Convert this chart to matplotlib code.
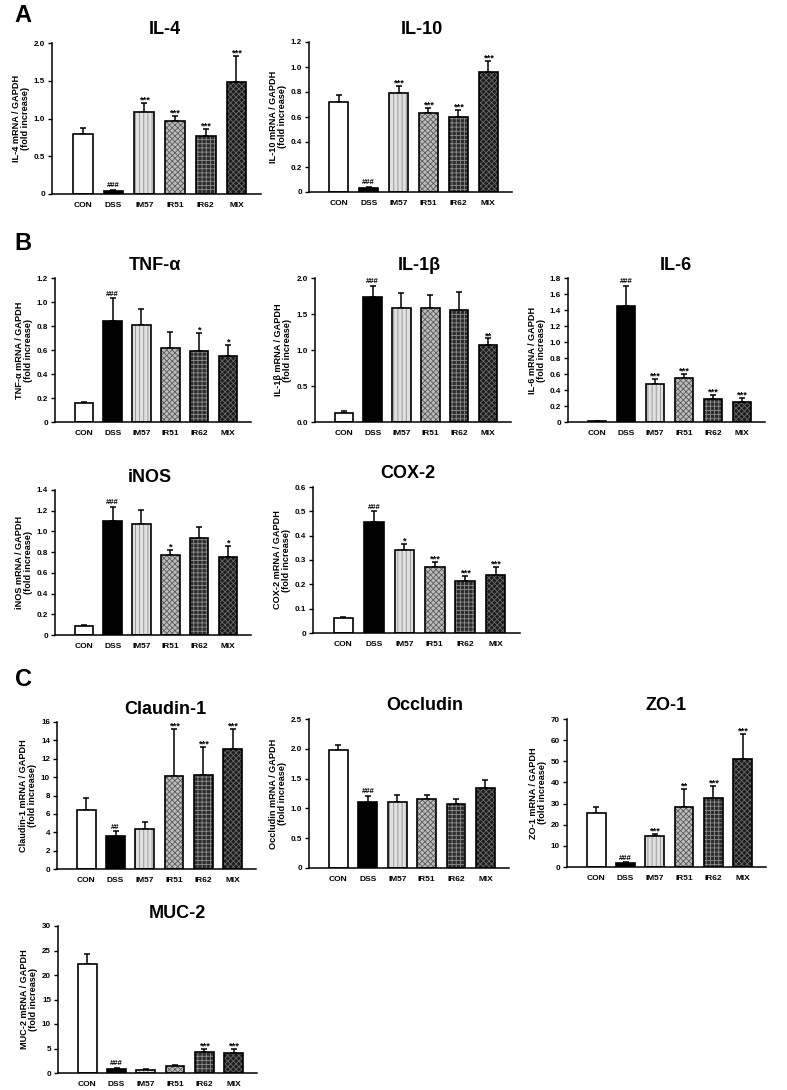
import numpy as np
import matplotlib.pyplot as plt

plt.rcParams['font.family'] = ['Liberation Sans', 'DejaVu Sans']
plt.rcParams['font.weight'] = 'bold'
plt.rcParams['hatch.linewidth'] = 0.6

# groups
groups = ['CON', 'DSS', 'IM57', 'IR51', 'IR62', 'MIX']

# panel A
il4_mean = [0.79, 0.04, 1.08, 0.97, 0.77, 1.49]
il4_err = [0.09, 0.01, 0.12, 0.06, 0.09, 0.34]
il4_marks = ['', '###', '***', '***', '***', '***']
il4_ticks = [0, 0.5, 1.0, 1.5, 2.0]
il4_ticklabels = ['0', '0.5', '1.0', '1.5', '2.0']

il10_mean = [0.72, 0.03, 0.79, 0.63, 0.60, 0.96]
il10_err = [0.06, 0.01, 0.06, 0.04, 0.06, 0.09]
il10_marks = ['', '###', '***', '***', '***', '***']
il10_ticks = [0, 0.2, 0.4, 0.6, 0.8, 1.0, 1.2]
il10_ticklabels = ['0', '0.2', '0.4', '0.6', '0.8', '1.0', '1.2']

# panel B
tnf_mean = [0.155, 0.84, 0.81, 0.62, 0.59, 0.55]
tnf_err = [0.01, 0.19, 0.13, 0.13, 0.15, 0.09]
tnf_marks = ['', '###', '', '', '*', '*']
tnf_ticks = [0, 0.2, 0.4, 0.6, 0.8, 1.0, 1.2]
tnf_ticklabels = ['0', '0.2', '0.4', '0.6', '0.8', '1.0', '1.2']

il1b_mean = [0.13, 1.73, 1.58, 1.59, 1.55, 1.07]
il1b_err = [0.02, 0.16, 0.21, 0.17, 0.25, 0.09]
il1b_marks = ['', '###', '', '', '', '**']
il1b_ticks = [0, 0.5, 1.0, 1.5, 2.0]
il1b_ticklabels = ['0.0', '0.5', '1.0', '1.5', '2.0']

il6_mean = [0.01, 1.45, 0.47, 0.55, 0.29, 0.25]
il6_err = [0.005, 0.25, 0.07, 0.05, 0.05, 0.05]
il6_marks = ['', '###', '***', '***', '***', '***']
il6_ticks = [0, 0.2, 0.4, 0.6, 0.8, 1.0, 1.2, 1.4, 1.6, 1.8]
il6_ticklabels = ['0', '0.2', '0.4', '0.6', '0.8', '1.0', '1.2', '1.4', '1.6', '1.8']

inos_mean = [0.09, 1.10, 1.07, 0.77, 0.94, 0.75]
inos_err = [0.01, 0.14, 0.14, 0.05, 0.10, 0.11]
inos_marks = ['', '###', '', '*', '', '*']
inos_ticks = [0, 0.2, 0.4, 0.6, 0.8, 1.0, 1.2, 1.4]
inos_ticklabels = ['0', '0.2', '0.4', '0.6', '0.8', '1.0', '1.2', '1.4']

cox2_mean = [0.062, 0.455, 0.342, 0.272, 0.212, 0.240]
cox2_err = [0.004, 0.045, 0.023, 0.020, 0.024, 0.032]
cox2_marks = ['', '###', '*', '***', '***', '***']
cox2_ticks = [0, 0.1, 0.2, 0.3, 0.4, 0.5, 0.6]
cox2_ticklabels = ['0', '0.1', '0.2', '0.3', '0.4', '0.5', '0.6']

# panel C
cld_mean = [6.4, 3.6, 4.4, 10.1, 10.2, 13.1]
cld_err = [1.3, 0.5, 0.7, 5.1, 3.1, 2.1]
cld_marks = ['', '##', '', '***', '***', '***']
cld_ticks = [0, 2, 4, 6, 8, 10, 12, 14, 16]
cld_ticklabels = ['0', '2', '4', '6', '8', '10', '12', '14', '16']

ocl_mean = [1.98, 1.11, 1.11, 1.15, 1.07, 1.34]
ocl_err = [0.09, 0.10, 0.11, 0.07, 0.08, 0.13]
ocl_marks = ['', '###', '', '', '', '']
ocl_ticks = [0, 0.5, 1.0, 1.5, 2.0, 2.5]
ocl_ticklabels = ['0', '0.5', '1.0', '1.5', '2.0', '2.5']

zo1_mean = [25.5, 1.8, 14.5, 28.3, 32.8, 51.0]
zo1_err = [2.8, 0.4, 1.2, 8.7, 5.7, 12.0]
zo1_marks = ['', '###', '***', '**', '***', '***']
zo1_ticks = [0, 10, 20, 30, 40, 50, 60, 70]
zo1_ticklabels = ['0', '10', '20', '30', '40', '50', '60', '70']

muc_mean = [22.3, 0.8, 0.7, 1.5, 4.3, 4.1]
muc_err = [2.0, 0.2, 0.05, 0.2, 0.6, 0.8]
muc_marks = ['', '###', '', '', '***', '***']
muc_ticks = [0, 5, 10, 15, 20, 25, 30]
muc_ticklabels = ['0', '5', '10', '15', '20', '25', '30']

# bar styles: facecolor, hatch color, hatch
styles = [
    ('white', 'white', None),
    ('black', 'black', None),
    ('#e0e0e0', '#909090', '||||'),
    ('#bcbcbc', '#5c5c5c', 'xxxxxx'),
    ('#2c2c2c', '#8c8c8c', '++++'),
    ('#1c1c1c', '#686868', 'xxxxxx'),
]

W, H = 787, 1090
fig = plt.figure(figsize=(W / 100, H / 100), dpi=100)


def box(l, t, r, b):
    return [l / W, 1 - b / H, (r - l) / W, (b - t) / H]


def draw(rect, title, title_x, means, errs, marks, ticks, ticklabels, name):
    ax = fig.add_axes(box(*rect))
    x = np.arange(len(groups))
    for i in range(len(groups)):
        fc, hc, h = styles[i]
        ax.bar(x[i], means[i], width=0.64, color=fc, edgecolor=hc, hatch=h, linewidth=0, zorder=2)
        ax.bar(x[i], means[i], width=0.64, fill=False, edgecolor='black', linewidth=1.2, zorder=3)
    ax.errorbar(x, means, yerr=[np.zeros(len(errs)), errs], fmt='none', ecolor='black',
                elinewidth=1.1, capsize=2.5, capthick=1.1, zorder=1)
    # significance marks above the error bars
    for i in range(len(groups)):
        m = marks[i]
        if not m:
            continue
        if m.startswith('*'):
            ax.annotate(m, (x[i], means[i] + errs[i]), xytext=(0, 0.3), textcoords='offset points',
                        ha='center', va='baseline', fontsize=6.8, fontweight='bold')
        else:
            ax.annotate(m, (x[i], means[i] + errs[i]), xytext=(0, 2), textcoords='offset points',
                        ha='center', va='baseline', fontsize=5.5, fontweight='bold')
    ax.set_xlim(-1, 5.8)
    ax.set_ylim(0, ticks[-1])
    ax.set_yticks(ticks, ticklabels)
    ax.set_xticks(x, groups)
    ax.tick_params(axis='x', length=0, pad=6, labelsize=6)
    ax.tick_params(axis='y', length=3, width=1, pad=2, labelsize=5.8)
    for s in ['top', 'right']:
        ax.spines[s].set_visible(False)
    for s in ['left', 'bottom']:
        ax.spines[s].set_linewidth(1.1)
    ax.set_ylabel(name + ' mRNA / GAPDH\n(fold increase)', fontsize=6.6, fontweight='bold',
                  labelpad=3, linespacing=1.0)
    fig.text(title_x / W, 1 - (rect[1] - 13) / H, title, ha='center', va='center',
             fontsize=13, fontweight='bold')
    return ax


draw((52, 43, 261, 194), 'IL-4', 165, il4_mean, il4_err, il4_marks, il4_ticks, il4_ticklabels, 'IL-4')
draw((309, 42, 512, 192), 'IL-10', 422, il10_mean, il10_err, il10_marks, il10_ticks, il10_ticklabels, 'IL-10')

draw((55, 278, 251, 422), 'TNF-α', 155, tnf_mean, tnf_err, tnf_marks, tnf_ticks, tnf_ticklabels, 'TNF-α')
draw((315, 278, 511, 422), 'IL-1β', 419, il1b_mean, il1b_err, il1b_marks, il1b_ticks, il1b_ticklabels, 'IL-1β')
draw((568, 278, 765, 422), 'IL-6', 676, il6_mean, il6_err, il6_marks, il6_ticks, il6_ticklabels, 'IL-6')
draw((55, 490, 251, 635), 'iNOS', 150, inos_mean, inos_err, inos_marks, inos_ticks, inos_ticklabels, 'iNOS')
draw((313, 487, 520, 633), 'COX-2', 408, cox2_mean, cox2_err, cox2_marks, cox2_ticks, cox2_ticklabels, 'COX-2')

draw((57, 722, 256, 869), 'Claudin-1', 165, cld_mean, cld_err, cld_marks, cld_ticks, cld_ticklabels, 'Claudin-1')
draw((309, 719, 509, 868), 'Occludin', 425, ocl_mean, ocl_err, ocl_marks, ocl_ticks, ocl_ticklabels, 'Occludin')
draw((567, 719, 766, 867), 'ZO-1', 666, zo1_mean, zo1_err, zo1_marks, zo1_ticks, zo1_ticklabels, 'ZO-1')
draw((58, 926, 257, 1073), 'MUC-2', 177, muc_mean, muc_err, muc_marks, muc_ticks, muc_ticklabels, 'MUC-2')

# panel letters
for letter, ly in [('A', 15), ('B', 244), ('C', 680)]:
    fig.text(23 / W, 1 - ly / H, letter, ha='center', va='center', fontsize=17, fontweight='bold')

fig.savefig('out.png', dpi=100)
